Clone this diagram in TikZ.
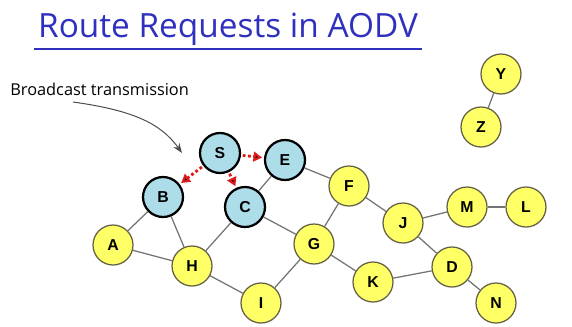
\documentclass[tikz,border=0pt]{standalone}
\usepackage{fontspec}
\setsansfont{Liberation Sans}
\newfontfamily\commicfont{Open Sans}
\usetikzlibrary{arrows.meta}

\definecolor{titleblue}{RGB}{48,48,190}
\definecolor{nodeyellow}{RGB}{255,255,102}
\definecolor{nodeblue}{RGB}{172,221,232}
\definecolor{bcastred}{RGB}{222,28,28}

\begin{document}
\begin{tikzpicture}[x=0.02cm, y=-0.02cm, >=Stealth,
						plain node/.style = {circle, draw = black!70!yellow, fill = nodeyellow, line width = 0.25mm, minimum size = 0.8cm, inner sep = 0pt, font = \sffamily\bfseries\fontsize{9}{10}\selectfont},
						bcast node/.style = {plain node, draw = black, fill = nodeblue, line width = 0.45mm},
						link/.style = {draw = black!55, line width = 0.25mm},
						bcast/.style = {-{Triangle[length = 5pt, width = 5.5pt]}, draw = bcastred, line width = 1.6pt, dash pattern = on 1.6pt off 1.4pt, shorten >= 1pt, shorten <= 1pt}]
		\useasboundingbox (0,0) rectangle (572,326);

		\node[text = titleblue, inner sep = 2pt, font = \commicfont\fontsize{19}{21}\selectfont] (title) at (228,29) {Route Requests in AODV};
		\draw[titleblue, line width = 0.4mm] (title.south west) -- (title.south east);

		\node[anchor = west, inner sep = 0pt, font = \commicfont\fontsize{9.3}{11}\selectfont] (cap) at (10,89) {Broadcast transmission};

		\node[bcast node] (S) at (220,153) {S};
		\node[bcast node] (E) at (285,160) {E};
		\node[bcast node] (B) at (163,197) {B};
		\node[bcast node] (C) at (245,207) {C};

		\node[plain node] (A) at (113,245) {A};
		\node[plain node] (H) at (192,266) {H};
		\node[plain node] (I) at (261,303) {I};
		\node[plain node] (G) at (314,244) {G};
		\node[plain node] (F) at (349,186) {F};
		\node[plain node] (J) at (403,223) {J};
		\node[plain node] (M) at (467,207) {M};
		\node[plain node] (L) at (526,207) {L};
		\node[plain node] (D) at (452,267) {D};
		\node[plain node] (K) at (373,282) {K};
		\node[plain node] (N) at (496,303) {N};
		\node[plain node] (Y) at (501,74) {Y};
		\node[plain node] (Z) at (481,127) {Z};

		\coordinate (capend) at (73,102);
		\coordinate (captip) at (182,153);
		\draw[->, black!70, line width = 0.2mm] (capend) .. controls (130,110) and (160,122) .. (captip);

		\path[link]
		(A) edge (B)
		(A) edge (H)
		(B) edge (H)
		(H) edge (C)
		(H) edge (I)
		(C) edge (E)
		(C) edge (G)
		(E) edge (F)
		(F) edge (G)
		(G) edge (I)
		(G) edge (K)
		(K) edge (D)
		(D) edge (J)
		(D) edge (N)
		(J) edge (F)
		(J) edge (M)
		(M) edge (L)
		(Y) edge (Z);

		\path[bcast]
		(S) edge (E)
		(S) edge (B)
		(S) edge (C);

	\end{tikzpicture}
\end{document}
